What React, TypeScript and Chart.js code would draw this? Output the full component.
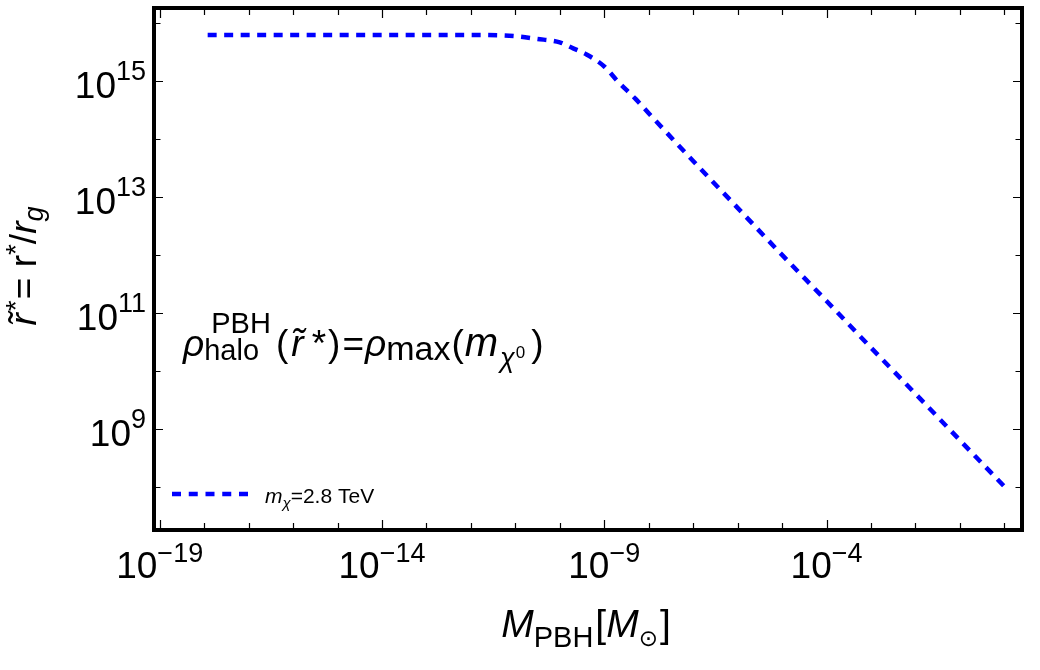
import { useEffect, useRef } from 'react';
import { Chart, registerables, Plugin } from 'chart.js';

Chart.register(...registerables);

// M_PBH [M_sun] and r~* = r*/r_g
const pbhMass = [
  1.2e-18, 1e-16, 1e-14, 1e-12, 1e-11, 3e-11, 1e-10, 2e-10, 4e-10, 1e-9, 2e-9,
  5e-9, 1e-8, 1e-7, 1e-6, 1e-5, 1e-4, 1e-3, 1e-2, 1e-1, 1,
];
const rStar = [
  6.3e15, 6.3e15, 6.3e15, 6.3e15, 6.0e15, 5.4e15, 4.7e15, 3.7e15, 2.9e15, 1.8e15, 1.0e15,
  5.0e14, 2.8e14, 4.2e13, 6.5e12, 1.0e12, 1.6e11, 2.5e10, 4.0e9, 6.3e8, 1.0e8,
];

// decade ticks (exponents) and the labelled ones
const xTickExps = [-19, -18, -17, -16, -15, -14, -13, -12, -11, -10, -9, -8, -7, -6, -5, -4, -3, -2, -1, 0];
const xLabelExps = [-19, -14, -9, -4];
const yTickExps = [8, 9, 10, 11, 12, 13, 14, 15, 16];
const yLabelExps = [9, 11, 13, 15];

const legendMass = '2.8 TeV';

const FONT = '"Liberation Sans", Arial, "DejaVu Sans", sans-serif';

type Seg = {
  t: string;
  size: number;
  italic?: boolean;
  dy?: number;
  dx?: number;
  overlay?: boolean;
};

function segFont(s: Seg) {
  return `${s.italic ? 'italic ' : ''}${s.size}px ${FONT}`;
}

function drawRich(
  ctx: CanvasRenderingContext2D,
  segs: Seg[],
  x: number,
  y: number,
  align: 'left' | 'center' | 'right'
) {
  let w = 0;
  for (const s of segs) {
    if (s.overlay) continue;
    ctx.font = segFont(s);
    w += ctx.measureText(s.t).width + (s.dx || 0);
  }
  let cx = align === 'center' ? x - w / 2 : align === 'right' ? x - w : x;
  ctx.textAlign = 'left';
  ctx.textBaseline = 'alphabetic';
  for (const s of segs) {
    ctx.font = segFont(s);
    if (s.overlay) {
      ctx.fillText(s.t, cx + (s.dx || 0), y + (s.dy || 0));
      continue;
    }
    cx += s.dx || 0;
    ctx.fillText(s.t, cx, y + (s.dy || 0));
    cx += ctx.measureText(s.t).width;
  }
}

// frame, inward ticks, labels, legend and the annotation
const decorations: Plugin<'line'> = {
  id: 'decorations',
  afterDraw(chart) {
    const { ctx, chartArea: a, scales } = chart;
    const xs = scales.x;
    const ys = scales.y;
    ctx.save();
    ctx.strokeStyle = '#000';
    ctx.fillStyle = '#000';

    // ticks on all four sides
    ctx.lineWidth = 1.2;
    ctx.beginPath();
    for (const e of xTickExps) {
      const px = Math.round(xs.getPixelForValue(10 ** e)) + 0.5;
      const len = xLabelExps.includes(e) ? 8 : 5;
      ctx.moveTo(px, a.bottom);
      ctx.lineTo(px, a.bottom - len);
      ctx.moveTo(px, a.top);
      ctx.lineTo(px, a.top + len);
    }
    for (const e of yTickExps) {
      const py = Math.round(ys.getPixelForValue(10 ** e)) + 0.5;
      const len = yLabelExps.includes(e) ? 7 : 4.5;
      ctx.moveTo(a.left, py);
      ctx.lineTo(a.left + len, py);
      ctx.moveTo(a.right, py);
      ctx.lineTo(a.right - len, py);
    }
    ctx.stroke();

    // frame
    ctx.lineWidth = 4;
    ctx.strokeRect(a.left - 2, a.top - 2, a.right - a.left + 4, a.bottom - a.top + 4);

    // tick labels
    for (const e of xLabelExps) {
      const px = xs.getPixelForValue(10 ** e);
      drawRich(
        ctx,
        [
          { t: '10', size: 37 },
          { t: '\u2212' + Math.abs(e), size: 27, dy: -16 },
        ],
        px,
        a.bottom + 50,
        'center'
      );
    }
    for (const e of yLabelExps) {
      const py = ys.getPixelForValue(10 ** e);
      drawRich(
        ctx,
        [
          { t: '10', size: 37 },
          { t: String(e), size: 27, dy: -18 },
        ],
        a.left - 10,
        py + 17,
        'right'
      );
    }

    // x title
    drawRich(
      ctx,
      [
        { t: 'M', size: 39, italic: true },
        { t: 'PBH', size: 29, dy: 10 },
        { t: '[', size: 39, dx: 2 },
        { t: 'M', size: 39, italic: true },
        { t: '\u2299', size: 23, dy: 9 },
        { t: ']', size: 39, dx: 2 },
      ],
      586,
      637,
      'center'
    );

    // y title
    ctx.save();
    ctx.translate(36, 266);
    ctx.rotate(-Math.PI / 2);
    drawRich(
      ctx,
      [
        { t: 'r', size: 37, italic: true },
        { t: '\u02dc', size: 37, italic: true, overlay: true, dx: -12, dy: -1 },
        { t: '*', size: 28, dy: -11, dx: 2 },
        { t: '=', size: 37, dx: 1 },
        { t: ' r', size: 37 },
        { t: '*', size: 28, dy: -11 },
        { t: '/', size: 37 },
        { t: 'r', size: 37, italic: true },
        { t: 'g', size: 27, italic: true, dy: 7 },
      ],
      0,
      0,
      'center'
    );
    ctx.restore();

    // annotation
    drawRich(
      ctx,
      [
        { t: '\u03c1', size: 37, italic: true },
        { t: 'PBH', size: 29, overlay: true, dx: 7, dy: -23 },
        { t: 'halo', size: 29, dy: 4 },
        { t: '(', size: 37, dx: 17 },
        { t: 'r', size: 37, italic: true, dx: 3 },
        { t: '\u02dc', size: 37, italic: true, overlay: true, dx: -12, dy: -1 },
        { t: '*', size: 37, dx: 8 },
        { t: ')', size: 37, dx: 2 },
        { t: '=', size: 37, dx: 2 },
        { t: '\u03c1', size: 37, italic: true, dx: 1 },
        { t: 'max', size: 34, dy: 4 },
        { t: '(', size: 37, dx: 1 },
        { t: 'm', size: 40, italic: true, dx: 1 },
        { t: '\u03c7', size: 27, italic: true, dy: 11, dx: 2 },
        { t: '0', size: 17, dy: 2, dx: 1 },
        { t: ')', size: 37, dx: 6 },
      ],
      183,
      356,
      'left'
    );

    // legend
    ctx.strokeStyle = '#0000ff';
    ctx.lineWidth = 4.5;
    ctx.setLineDash([9, 7.75]);
    ctx.beginPath();
    ctx.moveTo(172, 494);
    ctx.lineTo(249, 494);
    ctx.stroke();
    ctx.setLineDash([]);
    ctx.fillStyle = '#000';
    drawRich(
      ctx,
      [
        { t: 'm', size: 21, italic: true },
        { t: '\u03c7', size: 15, italic: true, dy: 5 },
        { t: '=' + legendMass, size: 21 },
      ],
      265,
      503,
      'left'
    );

    ctx.restore();
  },
};

export default function App() {
  const chartRef = useRef<HTMLCanvasElement>(null);
  const chartInstance = useRef<Chart<'line'> | null>(null);

  useEffect(() => {
    document.body.style.margin = '0';
    if (!chartRef.current) return;

    // Destroy existing chart if it exists
    if (chartInstance.current) {
      chartInstance.current.destroy();
    }

    const ctx = chartRef.current.getContext('2d');
    if (!ctx) return;

    chartInstance.current = new Chart(ctx, {
      type: 'line',
      data: {
        datasets: [
          {
            label: 'm_chi=' + legendMass,
            data: pbhMass.map((m, i) => ({ x: m, y: rStar[i] })),
            borderColor: '#0000ff',
            borderWidth: 4.5,
            borderDash: [9, 7.5],
            borderCapStyle: 'butt',
            pointRadius: 0,
            fill: false,
            cubicInterpolationMode: 'monotone',
          },
        ],
      },
      options: {
        responsive: false,
        animation: false,
        layout: {
          padding: { left: 156, right: 20, top: 10, bottom: 142 },
        },
        scales: {
          x: {
            type: 'logarithmic',
            display: false,
            min: 8.26e-20,
            max: 2.25,
          },
          y: {
            type: 'logarithmic',
            display: false,
            min: 1.92e7,
            max: 1.7e16,
          },
        },
        plugins: {
          legend: { display: false },
          tooltip: { enabled: false },
        },
      },
      plugins: [decorations],
    });

    return () => {
      if (chartInstance.current) {
        chartInstance.current.destroy();
        chartInstance.current = null;
      }
    };
  }, []);

  return (
    <div style={{ width: 1040, height: 670, background: '#fff' }}>
      <canvas ref={chartRef} width={1040} height={670} style={{ display: 'block' }}></canvas>
    </div>
  );
}
